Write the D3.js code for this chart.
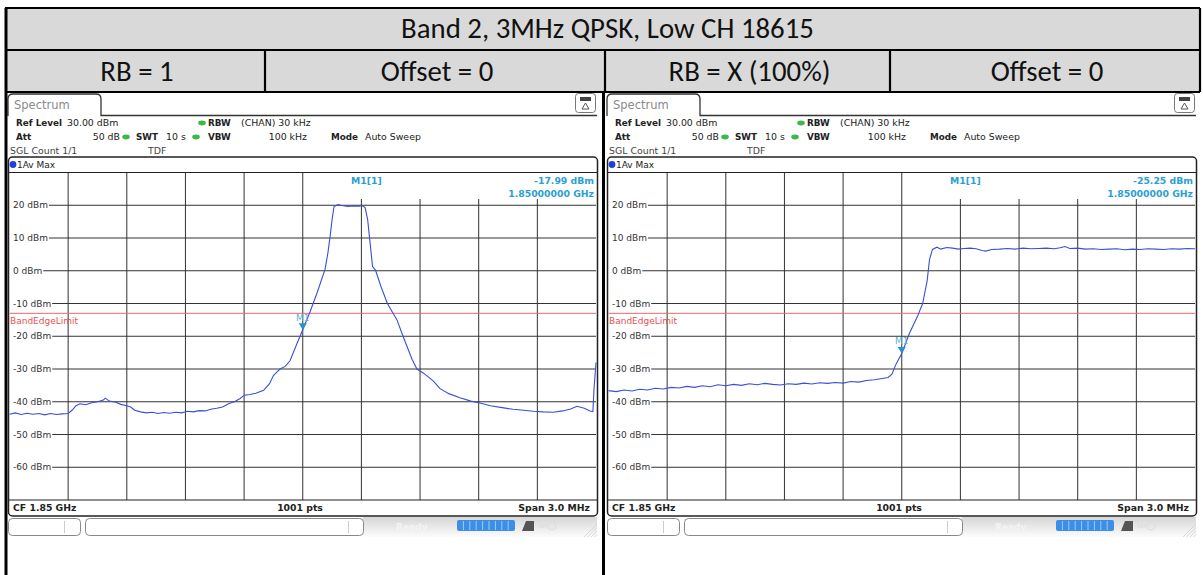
<!DOCTYPE html>
<html>
<head>
<meta charset="utf-8">
<script src="https://cdn.jsdelivr.net/npm/d3@7/dist/d3.min.js"></script>
<style>
  body { margin: 0; background: #fff; }
  svg { display: block; }
  .ui { font-family: "DejaVu Sans", sans-serif; }
  .hdr { font-family: Carlito, Lato, "Open Sans", sans-serif; fill: #111; }
</style>
</head>
<body>
<svg id="chart" width="1203" height="575"></svg>
<script>
// header texts
const title = 'Band 2, 3MHz QPSK, Low CH 18615';
const subHeaders = ['RB = 1', 'Offset = 0', 'RB = X (100%)', 'Offset = 0'];

// analyser axes: frequency offset from CF in MHz, level in dBm
const yTicks = [20, 10, 0, -10, -20, -30, -40, -50, -60];
const bandEdgeLimit = -13;
const markerFreqs = [0, 0];
const markerLevels = [-17.99, -25.25];
const markerTexts = ['-17.99 dBm', '-25.25 dBm'];

// trace, RB = 1
const freqLeft = [-1.50,-1.47,-1.44,-1.41,-1.38,-1.35,-1.32,-1.29,-1.26,-1.23,-1.20,-1.18,-1.16,-1.14,-1.11,-1.08,-1.05,-1.02,-1.01,-0.99,
  -0.96,-0.93,-0.90,-0.88,-0.86,-0.83,-0.80,-0.77,-0.74,-0.71,-0.68,-0.65,-0.62,-0.59,-0.56,-0.53,-0.50,-0.47,-0.44,-0.41,
  -0.38,-0.35,-0.32,-0.30,-0.27,-0.24,-0.20,-0.17,-0.15,-0.13,-0.116,-0.09,-0.065,-0.03,0.0,0.037,0.073,0.114,0.129,0.140,
  0.150,0.160,0.180,0.20,0.23,0.26,0.29,0.303,0.319,0.332,0.357,0.372,0.40,0.433,0.482,0.513,0.559,0.584,0.616,0.667,
  0.702,0.75,0.804,0.86,0.907,0.96,1.02,1.075,1.13,1.18,1.23,1.28,1.33,1.37,1.403,1.44,1.469,1.484,1.49,1.50];
const levelLeft = [-43.8,-43.4,-43.9,-43.5,-43.8,-43.6,-44.0,-43.6,-43.9,-43.7,-43.6,-42.6,-41.2,-40.6,-40.9,-40.3,-40.0,-39.5,-38.9,-39.8,
  -40.1,-40.8,-41.2,-41.6,-42.6,-43.1,-43.4,-43.2,-43.6,-43.3,-43.5,-43.2,-43.4,-42.9,-43.1,-42.7,-42.8,-42.3,-42.0,-41.6,
  -40.6,-40.0,-39.0,-38.0,-37.8,-37.4,-36.5,-34.5,-32.0,-30.8,-30.0,-29.2,-27.5,-22.3,-17.99,-12.6,-6.8,0.4,5.6,10.5,
  15.6,19.6,20.2,19.9,19.6,19.8,19.7,19.9,19.3,15.6,1.3,0.2,-4.8,-10.0,-15.0,-20.0,-27.0,-30.0,-31.2,-33.6,
  -36.0,-37.6,-38.8,-39.8,-40.4,-41.2,-41.8,-42.3,-42.6,-42.9,-43.1,-43.2,-42.8,-42.2,-41.4,-42.0,-42.8,-43.0,-36.0,-28.0];

// trace, RB = X (100%)
const freqRight = [-1.50,-1.46,-1.42,-1.38,-1.34,-1.30,-1.26,-1.22,-1.18,-1.14,-1.10,-1.06,-1.02,-0.98,-0.94,-0.90,-0.86,-0.82,-0.78,-0.74,
  -0.70,-0.66,-0.62,-0.58,-0.54,-0.50,-0.46,-0.42,-0.38,-0.34,-0.30,-0.26,-0.22,-0.18,-0.14,-0.10,-0.07,-0.05,-0.03,0.0,
  0.04,0.08,0.107,0.13,0.142,0.157,0.18,0.20,0.23,0.26,0.29,0.32,0.35,0.38,0.41,0.43,0.46,0.50,0.54,0.58,
  0.62,0.66,0.70,0.74,0.78,0.81,0.835,0.86,0.90,0.94,0.98,1.02,1.06,1.10,1.14,1.18,1.22,1.26,1.30,1.34,
  1.38,1.42,1.46,1.50];
const levelRight = [-36.6,-36.9,-36.4,-36.7,-36.2,-36.4,-35.9,-36.1,-35.6,-35.8,-35.3,-35.6,-35.1,-35.4,-34.8,-35.1,-34.7,-35.0,-34.5,-34.8,
  -34.4,-34.7,-34.9,-34.5,-34.7,-34.3,-34.6,-34.2,-34.4,-34.1,-34.3,-33.8,-34.0,-33.5,-33.3,-32.9,-32.6,-31.6,-28.6,-25.25,
  -19.0,-14.0,-10.0,-3.0,3.4,6.5,7.2,6.6,7.1,6.9,6.6,6.8,6.9,6.7,6.2,6.0,6.5,6.6,6.8,6.6,
  6.9,6.7,6.8,6.9,6.7,7.0,7.4,6.8,6.9,6.6,6.7,6.5,6.6,6.7,6.4,6.6,6.5,6.7,6.6,6.5,
  6.7,6.6,6.8,6.7];

const svg = d3.select('#chart');

// ---------- table header ----------
const colX = [5, 265, 605, 890, 1200];
const rowY = [8, 50, 92];
svg.append('rect').attr('x', colX[0]).attr('y', rowY[0])
  .attr('width', colX[4] - colX[0]).attr('height', rowY[2] - rowY[0]).attr('fill', '#d9d9d9');

const titleText = svg.append('text').attr('class', 'hdr')
  .attr('x', (colX[0] + colX[4]) / 2 + 5).attr('y', 38)
  .attr('text-anchor', 'middle').attr('font-size', 24).text(title);
// fit font size to the reference width of the title
const hdrSize = 24 * 413 / titleText.node().getComputedTextLength();
titleText.attr('font-size', hdrSize);

subHeaders.forEach((s, i) => {
  svg.append('text').attr('class', 'hdr')
    .attr('x', (colX[i] + colX[i + 1]) / 2 + 2).attr('y', 81)
    .attr('text-anchor', 'middle').attr('font-size', hdrSize).text(s);
});

// ---------- analyser screenshots ----------
function drawPanel(ox, freqs, levels, mFreq, mLevel, mText) {
  const g = svg.append('g').attr('class', 'ui').attr('transform', `translate(${ox},0)`);
  const x = d3.scaleLinear().domain([-1.5, 1.5]).range([9.5, 596]);
  const y = d3.scaleLinear().domain([-70, 30]).range([500, 172.5]);
  const x0 = x.range()[0], x1 = x.range()[1];

  // tab
  g.append('path')
    .attr('d', 'M8,116 L8,99 Q8,94 13,94 L96,94 Q101,94 101,99 L101,115.5 L597,115.5')
    .attr('fill', 'none').attr('stroke', '#333').attr('stroke-width', 1.3);
  g.append('text').attr('x', 14).attr('y', 109).attr('font-size', 11.5)
    .attr('fill', '#8a8a8a').text('Spectrum');
  // icon top right
  g.append('rect').attr('x', 575.5).attr('y', 93.5).attr('width', 20).attr('height', 19).attr('rx', 3)
    .attr('fill', '#fff').attr('stroke', '#777');
  g.append('rect').attr('x', 580).attr('y', 97).attr('width', 11).attr('height', 4).attr('fill', '#444');
  g.append('path').attr('d', 'M585.5,103 L589,109 L582,109 Z').attr('fill', 'none').attr('stroke', '#555');

  // settings lines
  const info = [
    { t: 'Ref Level', x: 16, y: 126, b: true },
    { t: '30.00 dBm', x: 67, y: 126 },
    { t: 'RBW', x: 208, y: 126, b: true },
    { t: '(CHAN) 30 kHz', x: 241, y: 126 },
    { t: 'Att', x: 16, y: 140, b: true },
    { t: '50 dB', x: 120, y: 140, a: 'end' },
    { t: 'SWT', x: 136, y: 140, b: true },
    { t: '10 s', x: 166, y: 140 },
    { t: 'VBW', x: 208, y: 140, b: true },
    { t: '100 kHz', x: 307, y: 140, a: 'end' },
    { t: 'Mode', x: 331, y: 140, b: true },
    { t: 'Auto Sweep', x: 365, y: 140 },
    { t: 'SGL Count 1/1', x: 10, y: 154, c: '#444' },
    { t: 'TDF', x: 148, y: 154, c: '#444' }
  ];
  g.selectAll('text.info').data(info).enter().append('text').attr('class', 'info')
    .attr('x', d => d.x).attr('y', d => d.y)
    .attr('text-anchor', d => d.a || 'start')
    .attr('font-size', d => d.b ? 8.8 : 9.4)
    .attr('font-weight', d => d.b ? 'bold' : 'normal')
    .attr('fill', d => d.c || '#222').text(d => d.t);
  // green indicator pills
  [[202, 123], [126, 137], [196, 137]].forEach(p => {
    g.append('ellipse').attr('cx', p[0]).attr('cy', p[1]).attr('rx', 3.8).attr('ry', 2.4).attr('fill', '#3cb94a');
  });

  // diagram frame
  g.append('rect').attr('x', 8.5).attr('y', 157).attr('width', 589).attr('height', 359).attr('rx', 4)
    .attr('fill', '#fff').attr('stroke', '#222').attr('stroke-width', 1.5);
  g.append('circle').attr('cx', 13).attr('cy', 164.5).attr('r', 3.4).attr('fill', '#1f3fdc');
  g.append('text').attr('x', 17).attr('y', 168).attr('font-size', 9).attr('fill', '#222').text('1Av Max');

  // grid
  const vTicks = d3.range(1, 10).map(i => -1.5 + i * 0.3);
  g.selectAll('line.vg').data(vTicks).enter().append('line').attr('class', 'vg')
    .attr('x1', d => x(d)).attr('x2', d => x(d))
    .attr('y1', d => x(d) > 304 ? 199 : y(30)).attr('y2', y(-70))
    .attr('stroke', '#333').attr('stroke-width', 1);
  g.append('line').attr('x1', 8.5).attr('x2', 597.5).attr('y1', y(30)).attr('y2', y(30))
    .attr('stroke', '#222').attr('stroke-width', 1.2);
  g.append('line').attr('x1', 8.5).attr('x2', 597.5).attr('y1', y(-70)).attr('y2', y(-70))
    .attr('stroke', '#222').attr('stroke-width', 1.2);

  const yl = g.selectAll('g.yl').data(yTicks).enter().append('g').attr('class', 'yl');
  yl.append('text').attr('x', 13).attr('y', d => y(d) + 3.2).attr('font-size', 9).attr('fill', '#333')
    .text(d => d + ' dBm');
  yl.each(function (d) {
    const w = d3.select(this).select('text').node().getComputedTextLength();
    d3.select(this).append('line').attr('x1', 13 + w + 1).attr('x2', x1)
      .attr('y1', y(d)).attr('y2', y(d)).attr('stroke', '#333').attr('stroke-width', 1);
  });

  // band edge limit
  g.append('line').attr('x1', x0).attr('x2', x1).attr('y1', y(bandEdgeLimit)).attr('y2', y(bandEdgeLimit))
    .attr('stroke', '#e86a6a').attr('stroke-width', 1);
  g.append('text').attr('x', 10).attr('y', y(bandEdgeLimit) + 10.5).attr('font-size', 9)
    .attr('fill', '#e8504f').text('BandEdgeLimit');

  // trace
  const pts = freqs.map((f, i) => [f, levels[i]]);
  g.append('path').datum(pts)
    .attr('d', d3.line().x(d => x(d[0])).y(d => y(d[1])))
    .attr('fill', 'none').attr('stroke', '#3a4fd8').attr('stroke-width', 1.1);

  // marker
  const mx = x(mFreq), my = y(mLevel);
  g.append('path').attr('d', `M${mx},${my} L${mx - 4},${my - 6.5} L${mx + 4},${my - 6.5} Z`).attr('fill', '#2a8fd0');
  g.append('text').attr('x', mx).attr('y', my - 9).attr('text-anchor', 'middle').attr('font-size', 9)
    .attr('fill', '#5ab0e0').text('M1');

  // marker table
  const mt = g.append('g').attr('font-weight', 'bold').attr('font-size', 9.3).attr('fill', '#2a9fd6');
  mt.append('text').attr('x', 351).attr('y', 183.5).text('M1[1]');
  mt.append('text').attr('x', 594).attr('y', 183.5).attr('text-anchor', 'end').text(mText);
  mt.append('text').attr('x', 594).attr('y', 196.5).attr('text-anchor', 'end').text('1.85000000 GHz');

  // footer
  const ft = g.append('g').attr('font-weight', 'bold').attr('font-size', 9.3).attr('fill', '#222');
  ft.append('text').attr('x', 13).attr('y', 511).text('CF 1.85 GHz');
  ft.append('text').attr('x', 300).attr('y', 511).attr('text-anchor', 'middle').text('1001 pts');
  ft.append('text').attr('x', 590).attr('y', 511).attr('text-anchor', 'end').text('Span 3.0 MHz');

  // status bar
  g.append('rect').attr('x', 363).attr('y', 517).attr('width', 234).attr('height', 20)
    .attr('fill', 'url(#statusGrad)');
  g.append('rect').attr('x', 8.5).attr('y', 518.5).attr('width', 72).attr('height', 17).attr('rx', 4)
    .attr('fill', '#fff').attr('stroke', '#888');
  g.append('line').attr('x1', 64.5).attr('x2', 64.5).attr('y1', 521).attr('y2', 533).attr('stroke', '#ccc');
  g.append('rect').attr('x', 85.5).attr('y', 518.5).attr('width', 278).attr('height', 17).attr('rx', 4)
    .attr('fill', '#fff').attr('stroke', '#888');
  g.append('line').attr('x1', 348.5).attr('x2', 348.5).attr('y1', 521).attr('y2', 533).attr('stroke', '#ccc');
  g.append('text').attr('x', 396).attr('y', 530).attr('font-size', 9).attr('font-weight', 'bold')
    .attr('fill', '#f4f4f4').text('Ready');
  g.append('rect').attr('x', 457).attr('y', 520).attr('width', 58).attr('height', 11).attr('rx', 2)
    .attr('fill', '#3b8fe6');
  d3.range(1, 9).forEach(i => {
    g.append('line').attr('x1', 457 + i * 6.4).attr('x2', 457 + i * 6.4).attr('y1', 521).attr('y2', 530)
      .attr('stroke', '#bcd8f6').attr('stroke-width', 0.8);
  });
  g.append('path').attr('d', 'M522,531 L526,521 L534,521 L534,531 Z').attr('fill', '#555');
  g.append('circle').attr('cx', 552).attr('cy', 526).attr('r', 4).attr('fill', 'none').attr('stroke', '#ddd');
  g.append('text').attr('x', 538).attr('y', 528).attr('font-size', 5).attr('fill', '#ddd').text('REF');
  d3.range(0, 4).forEach(i => {
    g.append('line').attr('x1', 584 + i * 3.5).attr('y1', 537).attr('x2', 597).attr('y2', 524 + i * 3.5)
      .attr('stroke', '#d0d0d0').attr('stroke-width', 0.8);
  });
}

const defs = svg.append('defs');
const grad = defs.append('linearGradient').attr('id', 'statusGrad').attr('x1', 0).attr('x2', 0).attr('y1', 0).attr('y2', 1);
grad.append('stop').attr('offset', '0%').attr('stop-color', '#d6d6d6');
grad.append('stop').attr('offset', '100%').attr('stop-color', '#fcfcfc');

drawPanel(0, freqLeft, levelLeft, markerFreqs[0], markerLevels[0], markerTexts[0]);
drawPanel(599, freqRight, levelRight, markerFreqs[1], markerLevels[1], markerTexts[1]);

// ---------- table borders ----------
const border = svg.append('g').attr('stroke', '#000').attr('stroke-width', 2.2);
border.append('line').attr('x1', colX[0]).attr('x2', colX[4]).attr('y1', rowY[0]).attr('y2', rowY[0]);
border.append('line').attr('x1', colX[0]).attr('x2', colX[4]).attr('y1', rowY[1]).attr('y2', rowY[1]);
border.append('line').attr('x1', colX[0]).attr('x2', colX[4]).attr('y1', rowY[2]).attr('y2', rowY[2]);
border.append('line').attr('x1', 6).attr('x2', 6).attr('y1', rowY[0]).attr('y2', 575).attr('stroke-width', 3);
border.append('line').attr('x1', colX[1]).attr('x2', colX[1]).attr('y1', rowY[1]).attr('y2', rowY[2]);
border.append('line').attr('x1', colX[2]).attr('x2', colX[2]).attr('y1', rowY[1]).attr('y2', rowY[2]);
border.append('line').attr('x1', 603.5).attr('x2', 603.5).attr('y1', rowY[2]).attr('y2', 575).attr('stroke-width', 3);
border.append('line').attr('x1', colX[3]).attr('x2', colX[3]).attr('y1', rowY[1]).attr('y2', rowY[2]);
border.append('line').attr('x1', colX[4]).attr('x2', colX[4]).attr('y1', rowY[0]).attr('y2', rowY[2]);
</script>
</body>
</html>
